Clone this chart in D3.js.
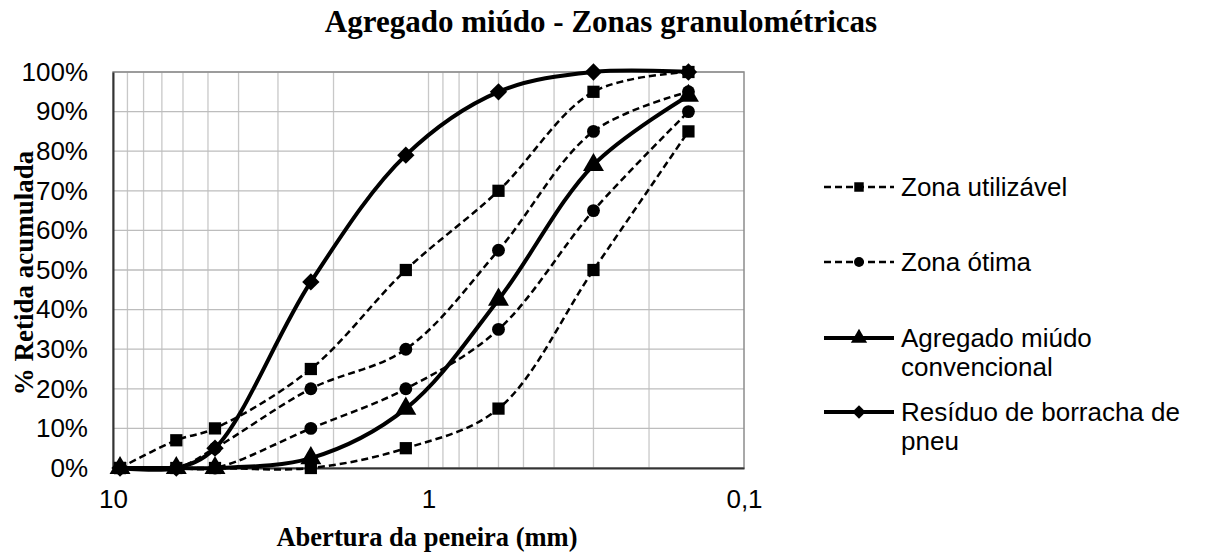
<!DOCTYPE html>
<html>
<head>
<meta charset="utf-8">
<script src="https://cdn.jsdelivr.net/npm/d3@7"></script>
<style>
  body { margin: 0; background: #fff; }
  svg { display: block; }
</style>
</head>
<body>
<script>
// aberturas das peneiras (mm)
const sieves = [9.5, 6.3, 4.75, 2.36, 1.18, 0.6, 0.3, 0.15];

// % retida acumulada
const utilInf = [0, 0, 0, 0, 5, 15, 50, 85];
const utilSup = [0, 7, 10, 25, 50, 70, 95, 100];
const otimaInf = [0, 0, 0, 10, 20, 35, 65, 90];
const otimaSup = [0, 0, 5, 20, 30, 55, 85, 95];
const convencional = [0, 0, 0, 2.5, 15, 42.5, 76.5, 94];
const borracha = [0, 0, 5, 47, 79, 95, 100, 100];

const xTicks = [10, 1, 0.1];
const yTicks = d3.range(0, 101, 10);

const legendNames = [
  ["Zona utilizável"],
  ["Zona ótima"],
  ["Agregado miúdo", "convencional"],
  ["Resíduo de borracha de", "pneu"]
];

const W = 1205, H = 556;
const svg = d3.select("body").append("svg").attr("width", W).attr("height", H);

const x = d3.scaleLog().domain([10, 0.1]).range([113, 744]);
const y = d3.scaleLinear().domain([0, 100]).range([468, 72]);

// grade
const minor = [];
[10, 1].forEach(d => { for (let k = 1; k < 10; k++) minor.push(d * k / 10); });
svg.append("g").selectAll("line").data(minor.filter(v => v < 10 && v > 0.1)).join("line")
  .attr("x1", d => x(d)).attr("x2", d => x(d))
  .attr("y1", y(0)).attr("y2", y(100))
  .attr("stroke", "#c8c8c8").attr("stroke-width", 1.3);
svg.append("g").selectAll("line").data(yTicks.slice(1)).join("line")
  .attr("x1", x(10)).attr("x2", x(0.1))
  .attr("y1", d => y(d)).attr("y2", d => y(d))
  .attr("stroke", "#bdbdbd").attr("stroke-width", 1.3);

// borda
svg.append("rect").attr("x", x(10)).attr("y", y(100))
  .attr("width", x(0.1) - x(10)).attr("height", y(0) - y(100))
  .attr("fill", "none").attr("stroke", "#8c8c8c").attr("stroke-width", 1.5);

// eixos
const yAxis = d3.axisLeft(y).tickValues(yTicks).tickSize(0).tickPadding(25)
  .tickFormat(d => d + "%");
const gy = svg.append("g").attr("transform", `translate(${x(10)},0)`).call(yAxis);
gy.select(".domain").attr("stroke", "#333").attr("stroke-width", 2);
gy.selectAll("text").attr("font-family", "Liberation Sans, Arial, sans-serif")
  .attr("font-size", 26).attr("fill", "#000");

const xAxis = d3.axisBottom(x).tickValues(xTicks).tickSize(0).tickPadding(22)
  .tickFormat(d => d === 0.1 ? "0,1" : String(d));
const gx = svg.append("g").attr("transform", `translate(0,${y(0)})`).call(xAxis);
gx.select(".domain").attr("stroke", "#333").attr("stroke-width", 2);
gx.selectAll("text").attr("font-family", "Liberation Sans, Arial, sans-serif")
  .attr("font-size", 26).attr("fill", "#000");

// títulos
svg.append("text").attr("x", 601).attr("y", 32).attr("text-anchor", "middle")
  .attr("font-family", "Liberation Serif, Times New Roman, serif")
  .attr("font-weight", "bold").attr("font-size", 31)
  .text("Agregado miúdo - Zonas granulométricas");
svg.append("text").attr("x", 427).attr("y", 546).attr("text-anchor", "middle")
  .attr("font-family", "Liberation Serif, Times New Roman, serif")
  .attr("font-weight", "bold").attr("font-size", 26.5)
  .text("Abertura da peneira (mm)");
svg.append("text").attr("transform", "translate(33,273) rotate(-90)").attr("text-anchor", "middle")
  .attr("font-family", "Liberation Serif, Times New Roman, serif")
  .attr("font-weight", "bold").attr("font-size", 27)
  .text("% Retida acumulada");

// séries
const line = d3.line().x(d => x(d[0])).y(d => y(d[1])).curve(d3.curveCatmullRom.alpha(0.5));
const pts = vals => sieves.map((s, i) => [s, vals[i]]);

const series = [
  { vals: utilInf, dash: "7,4", width: 2.5, sym: d3.symbolSquare, size: 150, rot: 0 },
  { vals: utilSup, dash: "7,4", width: 2.5, sym: d3.symbolSquare, size: 150, rot: 0 },
  { vals: otimaInf, dash: "7,4", width: 2.5, sym: d3.symbolCircle, size: 130, rot: 0 },
  { vals: otimaSup, dash: "7,4", width: 2.5, sym: d3.symbolCircle, size: 130, rot: 0 },
  { vals: convencional, dash: null, width: 4, sym: d3.symbolTriangle, size: 190, rot: 0 },
  { vals: borracha, dash: null, width: 4, sym: d3.symbolSquare, size: 150, rot: 45 }
];

series.forEach(s => {
  svg.append("path").datum(pts(s.vals)).attr("d", line)
    .attr("fill", "none").attr("stroke", "#000").attr("stroke-width", s.width)
    .attr("stroke-dasharray", s.dash);
  svg.append("g").selectAll("path").data(pts(s.vals)).join("path")
    .attr("transform", d => `translate(${x(d[0])},${y(d[1])}) rotate(${s.rot})`)
    .attr("d", d3.symbol(s.sym, s.size)).attr("fill", "#000");
});

// legenda
const legY = [187, 262, 338, 412];
const legSeries = [series[0], series[2], series[4], series[5]];
legendNames.forEach((names, i) => {
  const s = legSeries[i];
  const g = svg.append("g").attr("transform", `translate(0,${legY[i]})`);
  g.append("line").attr("x1", 824).attr("x2", 894)
    .attr("stroke", "#000").attr("stroke-width", s.width).attr("stroke-dasharray", s.dash);
  g.append("path").attr("transform", `translate(859,0) rotate(${s.rot})`)
    .attr("d", d3.symbol(s.sym, s.size * 0.6)).attr("fill", "#000");
  const t = g.append("text").attr("x", 901).attr("y", 9)
    .attr("font-family", "Liberation Sans, Arial, sans-serif").attr("font-size", 26);
  names.forEach((n, j) => t.append("tspan").attr("x", 901).attr("dy", j ? 29 : 0).text(n));
});
</script>
</body>
</html>
